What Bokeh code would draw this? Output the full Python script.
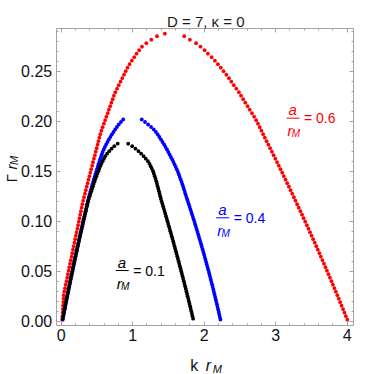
import math
import numpy as np
from bokeh.plotting import figure
from bokeh.models import (Range1d, LinearAxis, Label, FixedTicker, PrintfTickFormatter,
                          CustomJSTickFormatter)
from bokeh.embed import file_html
from bokeh.resources import INLINE

# ---------------- data (k r_M , Gamma r_M) ----------------
# a/r_M = 0.1 (black)
g_01 = [0.0025,0.005,0.0075,0.01,0.0125,0.015,0.0175,0.02,0.0225,0.025,0.0275,0.03,0.0325,0.035,0.0375,0.04,
        0.0425,0.045,0.0475,0.05,0.0525,0.055,0.0575,0.06,0.0625,0.065,0.0675,0.07,0.0725,0.075,0.0775,0.08,
        0.0825,0.085,0.0875,0.09,0.0925,0.095,0.0975,0.1,0.1025,0.105,0.1075,0.11,0.1125,0.115,0.1175,0.12,
        0.1225,0.125,0.1275,0.13,0.1325,0.135,0.1375,0.14,0.1425,0.145,0.1475,0.15,0.1525,0.155,0.1575,0.16,
        0.1625,0.165,0.1675,0.17,0.1725,0.175,0.1775]
k_01_rise = [0.022,0.029,0.035,0.042,0.049,0.056,0.063,0.070,0.077,0.084,0.091,0.098,0.105,0.113,0.120,0.127,
             0.134,0.142,0.149,0.157,0.164,0.171,0.179,0.186,0.194,0.202,0.209,0.217,0.224,0.232,0.240,0.248,
             0.255,0.263,0.271,0.279,0.287,0.295,0.303,0.311,0.319,0.327,0.335,0.344,0.352,0.360,0.368,0.376,
             0.387,0.398,0.410,0.421,0.433,0.444,0.455,0.467,0.480,0.493,0.506,0.520,0.533,0.546,0.563,0.580,
             0.598,0.615,0.642,0.672,0.705,0.742,0.79]
k_01_fall = [1.845,1.836,1.828,1.820,1.811,1.803,1.794,1.786,1.777,1.768,1.759,1.751,1.742,1.733,1.724,1.715,
             1.706,1.697,1.688,1.679,1.670,1.660,1.651,1.642,1.632,1.623,1.613,1.604,1.594,1.585,1.575,1.566,
             1.556,1.546,1.536,1.526,1.516,1.506,1.496,1.486,1.476,1.466,1.456,1.446,1.435,1.425,1.414,1.404,
             1.394,1.385,1.376,1.367,1.358,1.348,1.339,1.33,1.319,1.308,1.296,1.285,1.268,1.252,1.235,1.213,
             1.183,1.153,1.118,1.081,1.039,0.993,0.937]

# a/r_M = 0.4 (blue)
g_04 = [0.0017,0.0042,0.0067,0.0092,0.0117,0.0142,0.0167,0.0192,0.0217,0.0242,0.0267,0.0292,0.0317,0.0342,
        0.0367,0.0392,0.0417,0.0442,0.0467,0.0492,0.0517,0.0542,0.0567,0.0592,0.0617,0.0642,0.0667,0.0692,
        0.0717,0.0742,0.0767,0.0792,0.0817,0.0842,0.0867,0.0892,0.0917,0.0942,0.0967,0.0992,0.1017,0.1042,
        0.1067,0.1092,0.1117,0.1142,0.1167,0.1192,0.1217,0.1242,0.1267,0.1292,0.1317,0.1342,0.1367,0.1392,
        0.1417,0.1442,0.1467,0.1492,0.1517,0.1542,0.1567,0.1592,0.1617,0.1642,0.1667,0.1692,0.1717,0.1742,
        0.1767,0.1792,0.1817,0.1842,0.1867,0.1892,0.1917,0.1942,0.1967,0.1992,0.2017]
k_04_rise = [0.022,0.029,0.036,0.042,0.049,0.056,0.062,0.069,0.076,0.083,0.090,0.097,0.103,0.110,0.117,0.125,
             0.132,0.139,0.146,0.153,0.160,0.168,0.175,0.182,0.190,0.197,0.205,0.212,0.220,0.227,0.235,0.243,
             0.250,0.258,0.266,0.274,0.282,0.290,0.298,0.305,0.313,0.322,0.330,0.338,0.346,0.354,0.362,0.371,
             0.379,0.387,0.397,0.406,0.416,0.426,0.436,0.446,0.456,0.467,0.478,0.488,0.499,0.510,0.520,0.531,
             0.543,0.555,0.567,0.579,0.595,0.611,0.628,0.647,0.667,0.687,0.709,0.732,0.754,0.779,0.805,0.836,0.867]
k_04_fall = [2.227,2.219,2.211,2.203,2.195,2.187,2.179,2.170,2.162,2.153,2.145,2.136,2.128,2.119,2.110,2.101,
             2.092,2.083,2.074,2.065,2.055,2.046,2.036,2.027,2.017,2.007,1.998,1.988,1.978,1.968,1.958,1.948,
             1.937,1.927,1.917,1.906,1.896,1.885,1.874,1.864,1.853,1.842,1.831,1.820,1.808,1.797,1.786,1.774,
             1.763,1.751,1.740,1.729,1.718,1.707,1.696,1.684,1.671,1.658,1.646,1.633,1.618,1.602,1.586,1.570,
             1.553,1.534,1.516,1.498,1.479,1.459,1.439,1.417,1.395,1.373,1.35,1.325,1.295,1.257,1.215,1.172,1.127]

# a/r_M = 0.6 (red)
g_06 = [0.0015,0.005,0.0085,0.012,0.0155,0.019,0.0225,0.026,0.0295,0.033,0.0365,0.04,0.0435,0.047,0.0505,
        0.054,0.0575,0.061,0.0645,0.068,0.0715,0.075,0.0785,0.082,0.0855,0.089,0.0925,0.096,0.0995,0.103,
        0.1065,0.11,0.1135,0.117,0.1205,0.124,0.1275,0.131,0.1345,0.138,0.1415,0.145,0.1485,0.152,0.1555,
        0.159,0.1625,0.166,0.1695,0.173,0.1765,0.18,0.1835,0.187,0.1905,0.194,0.1975,0.201,0.2045,0.208,
        0.2115,0.215,0.2185,0.222,0.2255,0.229,0.2325,0.236,0.2395,0.243,0.2465,0.25,0.2535,0.257,0.2605,
        0.264,0.2675,0.271,0.2745,0.278,0.2815,0.285]
k_06_rise = [0.014,0.017,0.020,0.023,0.026,0.029,0.032,0.035,0.043,0.053,0.063,0.074,0.084,0.094,0.104,0.114,
             0.124,0.134,0.145,0.155,0.165,0.175,0.185,0.195,0.205,0.215,0.226,0.236,0.246,0.256,0.266,0.276,
             0.286,0.296,0.307,0.319,0.332,0.344,0.357,0.370,0.382,0.395,0.408,0.420,0.433,0.445,0.458,0.471,
             0.483,0.496,0.509,0.521,0.534,0.547,0.562,0.579,0.597,0.614,0.632,0.650,0.667,0.685,0.702,0.720,
             0.737,0.757,0.781,0.805,0.830,0.854,0.878,0.902,0.927,0.956,0.988,1.021,1.054,1.09,1.13,1.19,1.26,1.34]
k_06_fall = [4.002,3.982,3.962,3.942,3.922,3.902,3.882,3.862,3.841,3.821,3.800,3.780,3.759,3.738,3.717,3.696,
             3.675,3.654,3.632,3.611,3.589,3.568,3.546,3.524,3.502,3.480,3.458,3.436,3.413,3.391,3.368,3.346,
             3.323,3.300,3.277,3.254,3.231,3.208,3.185,3.161,3.138,3.114,3.091,3.067,3.043,3.019,2.995,2.971,
             2.947,2.922,2.898,2.873,2.848,2.824,2.80,2.777,2.752,2.727,2.698,2.668,2.637,2.607,2.574,2.545,
             2.515,2.485,2.449,2.414,2.379,2.347,2.31,2.27,2.232,2.192,2.15,2.105,2.052,2.005,1.948,1.886,1.80,1.72]
k_06_peak = [1.45]
g_06_peak = [0.2875]

series_labels = ["0.1", "0.4", "0.6"]
x_ticks = [0, 1, 2, 3, 4]
y_ticks = [0.0, 0.05, 0.10, 0.15, 0.20, 0.25]

assert len(g_01) == len(k_01_rise) == len(k_01_fall)
assert len(g_04) == len(k_04_rise) == len(k_04_fall)
assert len(g_06) == len(k_06_rise) == len(k_06_fall)

# ---------------- figure ----------------
# visible plot box (data units)
BX = (-0.07, 4.088)
BY = (-0.0043, 0.2932)
# whole canvas (data units) so that texts outside the box stay visible
XR = (-0.849, 4.382)
YR = (-0.0533, 0.3207)
W = H = 374
FRAME = "#a3a3a3"
FONT = "Liberation Sans"
RED = "#ff0000"
BLUE = "#0000ff"
BLACK = "#000000"

p = figure(width=W, height=H, x_range=Range1d(*XR), y_range=Range1d(*YR),
           output_backend="svg", toolbar_location=None,
           x_axis_location=None, y_axis_location=None,
           min_border_left=0, min_border_right=0, min_border_top=0, min_border_bottom=0)
p.grid.visible = False
p.outline_line_color = None
p.background_fill_color = "white"
p.border_fill_color = "white"

x_minor = [round(v, 2) for v in np.arange(0.0, 4.1, 0.2)]
y_minor = [round(v, 3) for v in np.arange(0.0, 0.30, 0.01)]


def make_axis(ticks, minor, fmt, show_labels, side, loc, bounds):
    ax = LinearAxis(ticker=FixedTicker(ticks=ticks, minor_ticks=minor),
                    fixed_location=loc, bounds=bounds)
    if show_labels:
        ax.formatter = PrintfTickFormatter(format=fmt)
        ax.major_label_text_font_size = "16px"
        ax.major_label_standoff = 4 if side in ("left", "right") else 3
    else:
        ax.formatter = CustomJSTickFormatter(code="return ''")
        ax.major_label_standoff = 0
    ax.axis_line_color = FRAME
    ax.major_tick_line_color = FRAME
    ax.minor_tick_line_color = FRAME
    ax.major_tick_in = 4
    ax.major_tick_out = 0
    ax.minor_tick_in = 2
    ax.minor_tick_out = 0
    ax.major_label_text_font = FONT
    ax.major_label_text_color = "#111111"
    p.add_layout(ax, side)


make_axis(x_ticks, x_minor, "%d", True, "below", BY[0], BX)
make_axis(x_ticks, x_minor, "%d", False, "above", BY[1], BX)
make_axis(y_ticks, y_minor, "%.2f", True, "left", BX[0], BY)
make_axis(y_ticks, y_minor, "%.2f", False, "right", BX[1], BY)

DOT = 3.8
p.scatter(k_06_rise + k_06_fall + k_06_peak, g_06 + g_06 + g_06_peak, size=DOT,
          fill_color=RED, line_color=None)
p.scatter(k_04_rise + k_04_fall, g_04 + g_04, size=DOT, fill_color=BLUE, line_color=None)
p.scatter(k_01_rise + k_01_fall, g_01 + g_01, size=DOT, fill_color=BLACK, line_color=None)

sx = (XR[1] - XR[0]) / W   # data per px
sy = (YR[1] - YR[0]) / H


def lab(x, y, text, size, color="#111111", style="normal", align="center",
        baseline="alphabetic", angle=0.0):
    p.add_layout(Label(x=x, y=y, text=text, text_font=FONT, text_font_size=size,
                       text_font_style=style, text_color=color, text_align=align,
                       text_baseline=baseline, angle=angle))


# title
lab(2.022, 0.3002, "D = 7, \u03ba = 0", "15px", color="#1a1a1a")

# x axis label  k r_M
lab(1.860, -0.0443, "k", "16px")
lab(2.060, -0.0443, "r", "16px", style="italic")
lab(2.182, -0.0473, "M", "11px", style="italic")

# y axis label  Γ r_M (rotated)
lab(-0.695, 0.1432, "\u0393", "15px", angle=math.pi / 2)
lab(-0.695, 0.1542, "r", "15px", style="italic", angle=math.pi / 2)
lab(-0.667, 0.1607, "M", "11px", style="italic", angle=math.pi / 2)

# curve annotations a / r_M = value
ann = [(0.853, 0.0507, BLACK, series_labels[0]),
       (2.259, 0.1034, BLUE, series_labels[1]),
       (3.242, 0.2030, RED, series_labels[2])]
for (kx, gy, col, val) in ann:
    p.segment(x0=[kx - 6.5 * sx], x1=[kx + 6.5 * sx], y0=[gy], y1=[gy], line_color=col, line_width=1)
    lab(kx - 0.3 * sx, gy + 8.5 * sy, "a", "15px", color=col, style="italic", baseline="middle")
    lab(kx - 3 * sx, gy - 12.5 * sy, "r", "15px", color=col, style="italic", baseline="middle")
    lab(kx + 3 * sx, gy - 15.5 * sy, "M", "10px", color=col, style="italic", baseline="middle")
    lab(kx + 11 * sx, gy, "= " + val, "14px", color=col, align="left", baseline="middle")

open("out.html", "w").write(file_html(p, INLINE))
